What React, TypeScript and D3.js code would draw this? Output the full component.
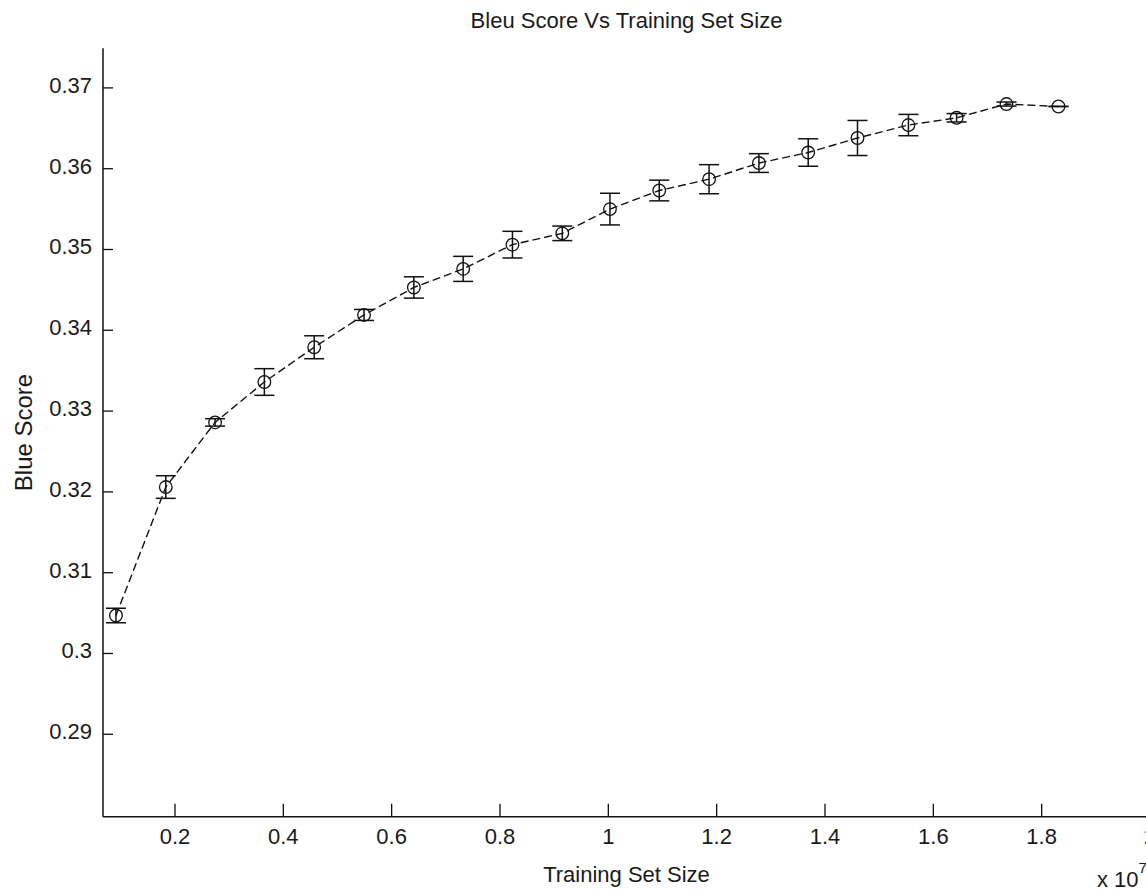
import React from "react";
import * as d3 from "d3";

const trainingSize = [0.091, 0.183, 0.274, 0.365, 0.457, 0.549, 0.641, 0.732, 0.823, 0.915, 1.003, 1.094, 1.186, 1.278, 1.369, 1.46, 1.554, 1.643, 1.735, 1.831];
const bleuScore = [0.3047, 0.3206, 0.3286, 0.3336, 0.3379, 0.3419, 0.3453, 0.3476, 0.3506, 0.352, 0.355, 0.3573, 0.3587, 0.3607, 0.362, 0.3638, 0.3654, 0.3663, 0.368, 0.3677];
const bleuError = [0.0009, 0.0014, 0.00046, 0.00165, 0.00142, 0.00068, 0.00132, 0.00155, 0.00165, 0.0009, 0.00196, 0.00128, 0.0018, 0.00116, 0.0017, 0.00217, 0.00132, 0.00052, 0.00025, 0];
const xTicks = [0.2, 0.4, 0.6, 0.8, 1, 1.2, 1.4, 1.6, 1.8, 2];
const yTicks = [0.29, 0.3, 0.31, 0.32, 0.33, 0.34, 0.35, 0.36, 0.37];

const W = 1146;
const H = 892;
const FONT = "'Liberation Sans', Arial, Helvetica, sans-serif";

export default function App() {
  const x = d3.scaleLinear().domain([0.0671, 2.0]).range([103, 1150]);
  const y = d3.scaleLinear().domain([0.2798, 0.3749]).range([816.7, 48.3]);
  const pts = trainingSize.map((t, i) => ({ t, s: bleuScore[i], e: bleuError[i] }));
  const line = d3
    .line<{ t: number; s: number }>()
    .x((d) => x(d.t))
    .y((d) => y(d.s));
  const x0 = x.range()[0];
  const yBottom = y.range()[0];
  const yTop = y.range()[1];
  const fmt = (v: number) => d3.format("")(+v.toFixed(2));

  return (
    <svg
      width={W}
      height={H}
      style={{ position: "absolute", left: 0, top: 0, background: "#fff" }}
      fontFamily={FONT}
    >
      <rect x={0} y={0} width={W} height={H} fill="#fff" />
      {/* axes */}
      <line x1={x0} x2={x0} y1={yTop} y2={yBottom} stroke="#111" strokeWidth={1.5} />
      <line x1={x0} x2={1150} y1={yBottom} y2={yBottom} stroke="#111" strokeWidth={1.5} />
      {yTicks.map((v) => (
        <g key={"y" + v}>
          <line x1={x0} x2={x0 + 10} y1={y(v)} y2={y(v)} stroke="#111" strokeWidth={1.3} />
          <text x={x0 - 11} y={y(v) + 5} textAnchor="end" fontSize={22} fill="#1a1a1a">
            {fmt(v)}
          </text>
        </g>
      ))}
      {xTicks.map((v) => (
        <g key={"x" + v}>
          <line x1={x(v)} x2={x(v)} y1={yBottom} y2={yBottom - 13} stroke="#111" strokeWidth={1.3} />
          <text x={x(v)} y={yBottom + 27} textAnchor="middle" fontSize={22} fill="#1a1a1a">
            {fmt(v)}
          </text>
        </g>
      ))}
      {/* data line */}
      <path d={line(pts) || ""} fill="none" stroke="#111" strokeWidth={1.4} strokeDasharray="8,4" />
      {/* error bars and markers */}
      {pts.map((d, i) => {
        const cx = x(d.t);
        const yt = y(d.s + d.e);
        const yb = y(d.s - d.e);
        return (
          <g key={"p" + i} stroke="#111" strokeWidth={1.5} fill="none">
            <line x1={cx} x2={cx} y1={yt} y2={yb} />
            <line x1={cx - 10} x2={cx + 10} y1={yt} y2={yt} />
            <line x1={cx - 10} x2={cx + 10} y1={yb} y2={yb} />
            <circle cx={cx} cy={y(d.s)} r={6.3} strokeWidth={1.3} />
          </g>
        );
      })}
      {/* labels */}
      <text x={626.5} y={28} textAnchor="middle" fontSize={22} fill="#1a1a1a">
        Bleu Score Vs Training Set Size
      </text>
      <text x={626.5} y={882} textAnchor="middle" fontSize={22} fill="#1a1a1a">
        Training Set Size
      </text>
      <text
        transform={`translate(32, ${(yTop + yBottom) / 2}) rotate(-90)`}
        textAnchor="middle"
        fontSize={24}
        fill="#1a1a1a"
      >
        Blue Score
      </text>
      <text x={1097} y={887} fontSize={22} fill="#1a1a1a">
        x 10
        <tspan dy={-14} fontSize={15}>7</tspan>
      </text>
    </svg>
  );
}
